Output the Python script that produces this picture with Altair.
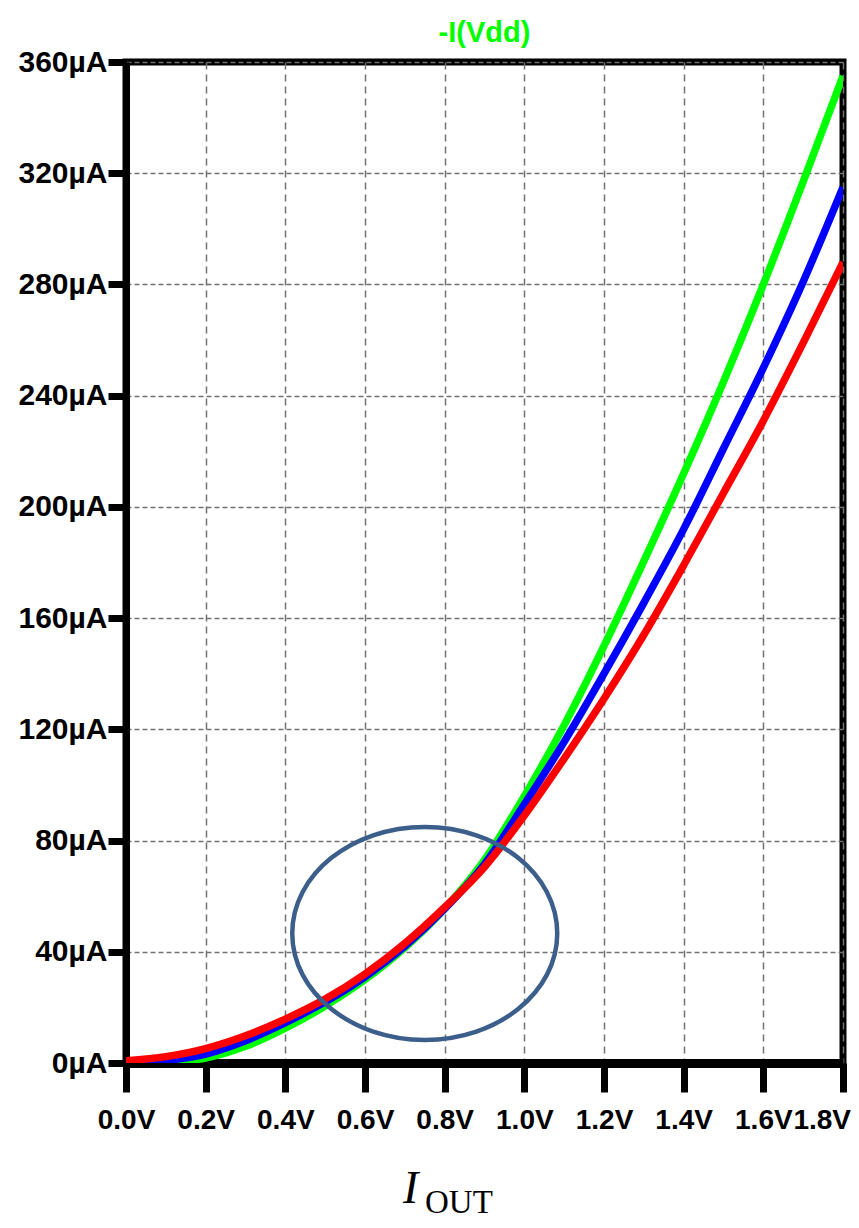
import altair as alt
import pandas as pd

# ---- data ----
volts = [0.0, 0.1, 0.2, 0.3, 0.4, 0.5, 0.6, 0.7, 0.8, 0.9,
         1.0, 1.1, 1.2, 1.3, 1.4, 1.5, 1.6, 1.7, 1.8]
i_green = [0.0, 0.3, 1.8, 6.0, 12.5, 20.5, 30.0, 41.5, 55.5, 73.0,
           96.0, 121.5, 150.0, 180.5, 212.0, 245.0, 280.0, 317.0, 355.0]
i_blue = [0.0, 0.9, 3.2, 8.0, 14.5, 22.0, 31.0, 42.0, 55.5, 71.5,
          93.0, 115.5, 140.0, 165.5, 192.0, 221.0, 250.0, 281.0, 315.0]
i_red = [0.8, 2.3, 5.2, 9.8, 15.8, 23.0, 32.0, 43.0, 56.0, 70.5,
         89.0, 109.5, 131.0, 154.0, 179.0, 205.0, 231.0, 259.0, 288.0]
series_names = ["green", "blue", "red"]
series_colors = ["#00ff00", "#0000ff", "#ff0000"]
x_ticks = [0.0, 0.2, 0.4, 0.6, 0.8, 1.0, 1.2, 1.4, 1.6, 1.8]
y_ticks = [0, 40, 80, 120, 160, 200, 240, 280, 320, 360]
ellipse_x = [0.75]
ellipse_y = [46.6]
title_text = ["-I(Vdd)"]
xtitle_main = ["I"]
xtitle_sub = ["OUT"]

rows = []
for name, vals in zip(series_names, [i_green, i_blue, i_red]):
    for v, i in zip(volts, vals):
        rows.append({"V": v, "I": i, "series": name})
df = pd.DataFrame(rows)

FONT = "Liberation Sans, Arial, sans-serif"
SERIF = "Liberation Serif, DejaVu Serif, serif"
W, H = 717, 1001

x_enc = alt.X(
    "V:Q",
    scale=alt.Scale(domain=[0, 1.8], nice=False, zero=False),
    axis=alt.Axis(
        values=x_ticks, title=None,
        labelExpr="format(datum.value, '.1f') + 'V'",
        labelFont=FONT, labelFontSize=28, labelFontWeight="bold", labelColor="black",
        labelFlush=False, labelOverlap=False, labelPadding=14,
        labelAlign={"condition": {"test": "datum.value >= 1.79", "value": "right"},
                    "value": "center"},
        labelOffset={"condition": {"test": "datum.value >= 1.79", "value": 7.5},
                     "value": 0},
        tickSize=29, tickWidth=7, tickColor="black",
        domainColor="black", domainWidth=9,
        grid=True, gridColor="#727272", gridWidth=1.5, gridDash=[7, 5],
    ),
)
y_enc = alt.Y(
    "I:Q",
    scale=alt.Scale(domain=[0, 360], nice=False, zero=True),
    axis=alt.Axis(
        values=y_ticks, title=None,
        labelExpr="datum.value + 'µA'",
        labelFont=FONT, labelFontSize=30, labelFontWeight="bold", labelColor="black",
        labelFlush=False, labelOverlap=False, labelPadding=1,
        tickSize=18, tickWidth=7, tickColor="black",
        domainColor="black", domainWidth=7,
        grid=True, gridColor="#727272", gridWidth=1.5, gridDash=[5, 3],
    ),
)

layers = []
for name, col in zip(series_names, series_colors):
    layers.append(
        alt.Chart(df)
        .transform_filter(alt.datum.series == name)
        .mark_line(color=col, strokeWidth=7.5, interpolate="monotone", clip=True)
        .encode(x=x_enc, y=y_enc)
    )

ell = (
    alt.Chart(pd.DataFrame({"V": ellipse_x, "I": ellipse_y}))
    .mark_point(
        shape="M -1 0 A 1 0.804 0 1 0 1 0 A 1 0.804 0 1 0 -1 0 Z",
        size=265 * 265, filled=False, stroke="#3c5e8b", strokeWidth=4.5, opacity=1,
    )
    .encode(x="V:Q", y="I:Q")
)

title = (
    alt.Chart(pd.DataFrame({"t": title_text}))
    .mark_text(font=FONT, fontSize=29, fontWeight="bold", color="#00ff00",
               align="center", baseline="alphabetic")
    .encode(x=alt.value(W / 2), y=alt.value(-20), text="t:N")
)
xt1 = (
    alt.Chart(pd.DataFrame({"t": xtitle_main}))
    .mark_text(font=SERIF, fontSize=46, fontStyle="italic", color="black",
               align="left", baseline="alphabetic")
    .encode(x=alt.value(277), y=alt.value(1141), text="t:N")
)
xt2 = (
    alt.Chart(pd.DataFrame({"t": xtitle_sub}))
    .mark_text(font=SERIF, fontSize=33, color="black",
               align="left", baseline="alphabetic")
    .encode(x=alt.value(299), y=alt.value(1151), text="t:N")
)

chart = (
    alt.layer(*layers, ell, title, xt1, xt2)
    .properties(
        width=W, height=H,
        autosize=alt.AutoSizeParams(type="none"),
        padding={"left": 118, "top": 54, "right": 8, "bottom": 157},
        background="white",
    )
    .configure_view(stroke="black", strokeWidth=7)
)

chart.save("out.html", embed_options={"renderer": "svg", "actions": False})
